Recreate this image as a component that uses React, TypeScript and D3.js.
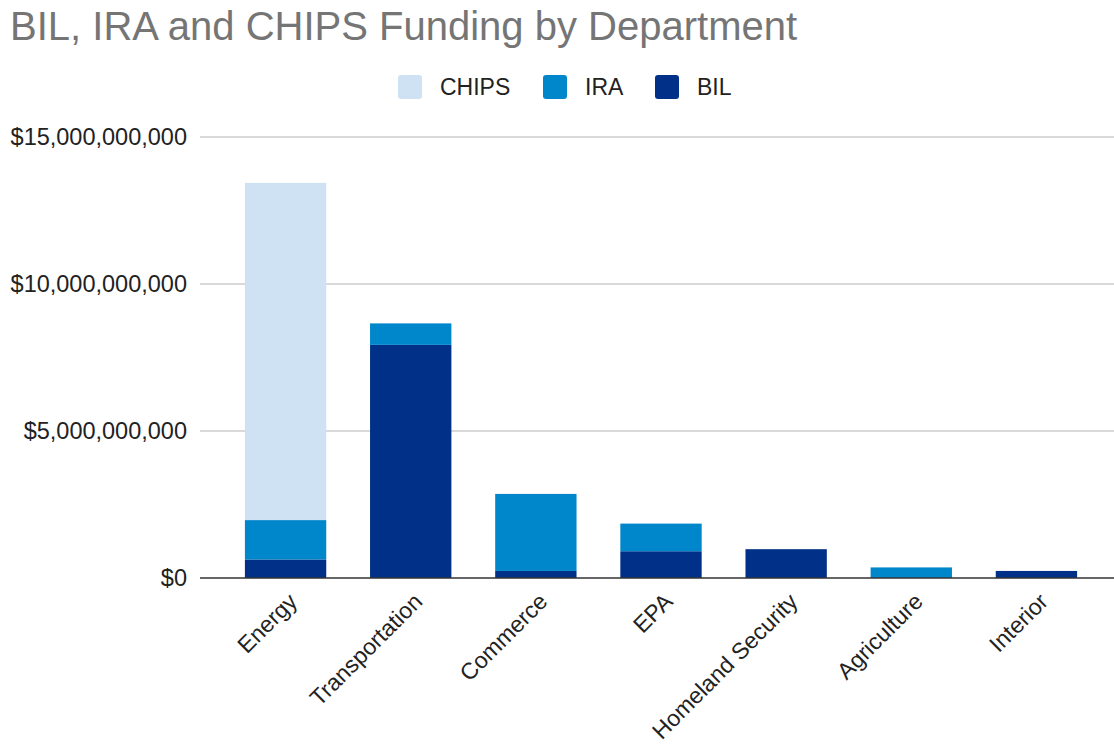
import * as React from "react";
import * as d3 from "d3";

// departments on the x axis
const departments = [
  "Energy",
  "Transportation",
  "Commerce",
  "EPA",
  "Homeland Security",
  "Agriculture",
  "Interior",
];

// funding in dollars
const bil = [0.63e9, 7.93e9, 0.24e9, 0.91e9, 0.98e9, 0, 0.24e9];
const ira = [1.34e9, 0.73e9, 2.62e9, 0.94e9, 0, 0.36e9, 0];
const chips = [11.47e9, 0, 0, 0, 0, 0, 0];

const seriesKeys = ["BIL", "IRA", "CHIPS"];
const legendKeys = ["CHIPS", "IRA", "BIL"];
const yTicks = [0, 5e9, 10e9, 15e9];

const W = 1114,
  H = 745;

export default function App() {
  const ref = React.useRef<SVGSVGElement>(null);

  React.useEffect(() => {
    if (!ref.current) return;
    const svg = d3.select(ref.current);
    svg.selectAll("*").remove();

    const font = "Arial, 'Liberation Sans', sans-serif";

    const colors = d3
      .scaleOrdinal<string, string>()
      .domain(seriesKeys)
      .range(["#003087", "#0086ca", "#cfe2f3"]);

    const x = d3
      .scaleBand()
      .domain(departments)
      .range([223, 1099])
      .paddingInner(0.35)
      .paddingOuter(0.175);

    const y = d3.scaleLinear().domain([0, 15e9]).range([578, 137]);

    const table = departments.map((d, i) => ({
      dept: d,
      BIL: bil[i],
      IRA: ira[i],
      CHIPS: chips[i],
    }));

    // title
    svg
      .append("text")
      .attr("x", 10)
      .attr("y", 40)
      .attr("font-family", font)
      .attr("font-size", 40)
      .attr("fill", "#757575")
      .text("BIL, IRA and CHIPS Funding by Department");

    // legend
    const legendX = [398, 543, 655];
    const legend = svg.append("g");
    legend
      .selectAll("rect")
      .data(legendKeys)
      .enter()
      .append("rect")
      .attr("x", (d, i) => legendX[i])
      .attr("y", 75)
      .attr("width", 24)
      .attr("height", 24)
      .attr("rx", 3)
      .attr("fill", (d) => colors(d));
    legend
      .selectAll("text")
      .data(legendKeys)
      .enter()
      .append("text")
      .attr("x", (d, i) => legendX[i] + 42)
      .attr("y", 87)
      .attr("dy", "0.35em")
      .attr("font-family", font)
      .attr("font-size", 23)
      .attr("fill", "#222")
      .text((d) => d);

    // gridlines + y labels
    const grid = svg.append("g");
    grid
      .selectAll("line")
      .data(yTicks.filter((t) => t > 0))
      .enter()
      .append("line")
      .attr("x1", 200)
      .attr("x2", W)
      .attr("y1", (d) => y(d))
      .attr("y2", (d) => y(d))
      .attr("stroke", "#cccccc")
      .attr("stroke-width", 1.5);

    const fmt = (v: number) => "$" + d3.format(",")(v);
    grid
      .selectAll("text")
      .data(yTicks)
      .enter()
      .append("text")
      .attr("x", 187)
      .attr("y", (d) => y(d))
      .attr("dy", "0.35em")
      .attr("text-anchor", "end")
      .attr("font-family", font)
      .attr("font-size", 23.5)
      .attr("fill", "#222")
      .text(fmt);

    // stacked bars
    const stacked = d3.stack<any>().keys(seriesKeys)(table);
    svg
      .append("g")
      .selectAll("g")
      .data(stacked)
      .enter()
      .append("g")
      .attr("fill", (s) => colors(s.key))
      .selectAll("rect")
      .data((s) => s.filter((d) => d[1] - d[0] > 0))
      .enter()
      .append("rect")
      .attr("x", (d: any) => x(d.data.dept)!)
      .attr("width", x.bandwidth())
      .attr("y", (d) => y(d[1]))
      .attr("height", (d) => y(d[0]) - y(d[1]));

    // baseline
    svg
      .append("line")
      .attr("x1", 200)
      .attr("x2", W)
      .attr("y1", y(0))
      .attr("y2", y(0))
      .attr("stroke", "#333")
      .attr("stroke-width", 1.5);

    // x labels, slanted
    svg
      .append("g")
      .selectAll("text")
      .data(departments)
      .enter()
      .append("text")
      .attr(
        "transform",
        (d) => `translate(${x(d)! + x.bandwidth() / 2 + 13},603) rotate(-45)`
      )
      .attr("text-anchor", "end")
      .attr("font-family", font)
      .attr("font-size", 23)
      .attr("fill", "#222")
      .text((d) => d);
  }, []);

  return (
    <svg
      ref={ref}
      width={W}
      height={H}
      style={{ position: "absolute", left: 0, top: 0, background: "#fff" }}
    />
  );
}
